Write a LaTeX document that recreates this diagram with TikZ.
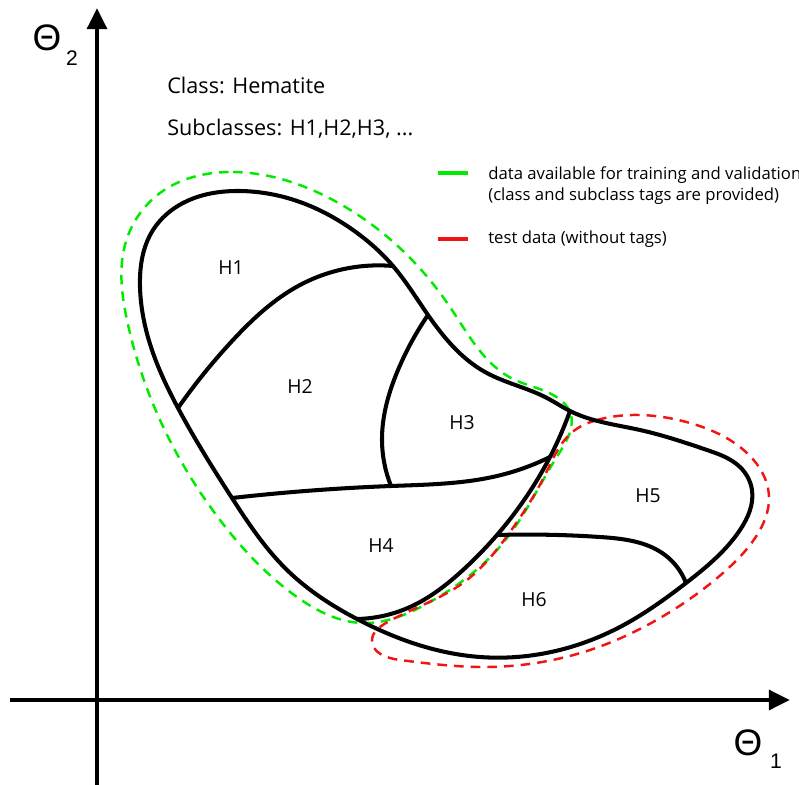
\documentclass[tikz,border=0pt]{standalone}
\usepackage{fontspec}
\setmainfont{Open Sans}
\newfontfamily\thetafont{Liberation Sans}
\usetikzlibrary{arrows.meta,hobby}
\definecolor{trainGreen}{RGB}{0,235,0}
\definecolor{testRed}{RGB}{240,20,20}
\begin{document}
\begin{tikzpicture}[x=0.02cm,y=-0.02cm,use Hobby shortcut,
  axis/.style={line width=2.8pt,-{Triangle[length=12pt,width=11pt]}},
  region/.style={line width=2.3pt,line join=round},
  train/.style={dash pattern=on 5.5pt off 4pt,line width=1.4pt,trainGreen},
  test/.style={dash pattern=on 5.5pt off 4pt,line width=1.4pt,testRed},
  lbl/.style={font=\fontsize{11}{13}\selectfont,inner sep=0pt},
  legtext/.style={font=\fontsize{9.5}{11}\selectfont,inner sep=0pt,anchor=base west}]
\useasboundingbox (0,0) rectangle (799,785);

\draw [axis] (97,785) -- (97,8);
\draw [axis] (10,700) -- (790,700);
\node (t2) at (47,38) [inner sep=0pt] {\thetafont\fontsize{21}{21}\selectfont Θ};
\node (t2s) at (72,58) [inner sep=0pt] {\thetafont\fontsize{12}{12}\selectfont 2};
\node (t1) at (748,743) [inner sep=0pt] {\thetafont\fontsize{21}{21}\selectfont Θ};
\node (t1s) at (776,761) [inner sep=0pt] {\thetafont\fontsize{12}{12}\selectfont 1};

\node (cls) at (167,93) [lbl,anchor=base west,font=\fontsize{12.3}{14}\selectfont] {Class: Hematite};
\node (sub) at (167,135) [lbl,anchor=base west,font=\fontsize{12.3}{14}\selectfont] {Subclasses: H1,H2,H3, ...};

\coordinate (gA) at (438,173);
\coordinate (gB) at (468,173);
\coordinate (rA) at (438,239);
\coordinate (rB) at (468,239);
\draw [line width=2.8pt,trainGreen] (gA) -- (gB);
\draw [line width=2.8pt,testRed] (rA) -- (rB);
\node (leg1) at (488,179) [legtext] {data available for training and validation};
\node (leg2) at (488,200) [legtext] {(class and subclass tags are provided)};
\node (leg3) at (488,243) [legtext] {test data (without tags)};

\coordinate (jMid) at (570,411);
\coordinate (jTip) at (357,619);
\coordinate (j12) at (178,408);
\coordinate (j12r) at (393,266);
\coordinate (j3) at (428,315);
\coordinate (j4) at (232,498);
\coordinate (j34) at (550,457);
\coordinate (j3b) at (391,486);
\coordinate (j56) at (497,535);
\coordinate (j56r) at (686,583);

\draw [train,closed=true] (233,172) .. (333,200) .. (450,307) .. (513,379) .. (558,398) .. (570,412) .. (558,455) .. (503,543) .. (430,602) .. (362,623) .. (297,597) .. (220,520) .. (160,420) .. (127,320) .. (125,245) .. (160,193);
\draw [test,closed=true] (597,420) .. (640,415) .. (690,423) .. (740,447) .. (769,497) .. (757,535) .. (723,573) .. (670,612) .. (590,650) .. (480,667) .. (400,660) .. (372,640) .. (386,623) .. (463,583) .. (510,532) .. (545,475) .. (575,430);

\draw [region,closed=true] (240,191) .. (300,202) .. (353,230) .. (j12r) .. (j3) .. (485,372) .. (547,398) .. (jMid) .. (640,430) .. (707,450) .. (740,467) .. (752,490) .. (740,530) .. (j56r) .. (618,628) .. (480,657) .. (jTip) .. (287,570) .. (j4) .. (j12) .. (153,353) .. (140,287) .. (153,230) .. (183,203);
\draw [region] (jMid) .. (j34) .. (j56) .. (463,570) .. (410,607) .. (jTip);
\draw [region] (j4) .. (j3b) .. (497,476) .. (j34);
\draw [region] (j3) .. (398,370) .. (382,440) .. (j3b);
\draw [region] (j12) .. (233,340) .. (300,285) .. (j12r);
\draw [region] (j56) .. (600,537) .. (665,555) .. (j56r);

\node (h1) at (231,268) [lbl] {H1};
\node (h2) at (300,386) [lbl] {H2};
\node (h3) at (462,423) [lbl] {H3};
\node (h4) at (381,546) [lbl] {H4};
\node (h5) at (648,496) [lbl] {H5};
\node (h6) at (534,600) [lbl] {H6};
\end{tikzpicture}
\end{document}
